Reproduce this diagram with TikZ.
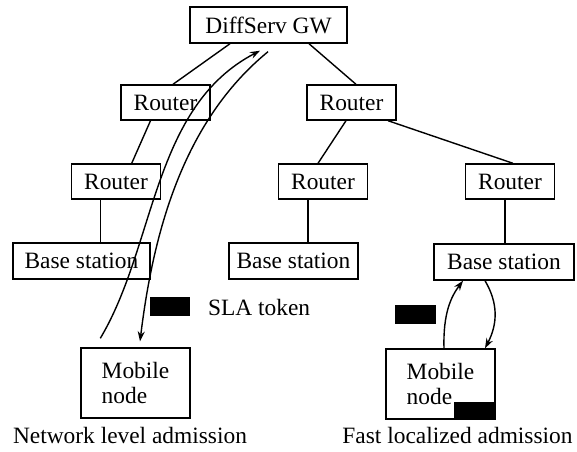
\documentclass[tikz,border=0pt]{standalone}
\usepackage{fontspec}
\setmainfont{Liberation Serif}
\usetikzlibrary{arrows.meta,positioning,calc}

\begin{document}
\begin{tikzpicture}[x=0.5pt,y=-0.5pt,
    font=\fontsize{11.7}{14}\selectfont,
    box/.style={draw, line width=0.7pt, inner sep=0pt, minimum height=18pt},
    router/.style={box, minimum width=44.5pt, minimum height=17.5pt},
    basest/.style={box},
    mobile/.style={box, minimum width=54.5pt, minimum height=35pt, align=left,
                   font=\fontsize{11.7}{12.5}\selectfont},
    token/.style={fill=black, inner sep=0pt, minimum width=20pt, minimum height=9.5pt},
    link/.style={line width=0.7pt},
    flow/.style={line width=0.7pt, -{Stealth[length=5pt,width=3.5pt]}}]

     \useasboundingbox (0,0) rectangle (577,451);

     % the tree
     \node[box, minimum width=78.5pt] (gw) at (268.5,25) {DiffServ GW};
     \node[router] (rt1) at (165.5,102.5) {Router};
     \node[router] (rt2) at (351.5,102.5) {Router};
     \node[router] (rt3) at (116,181.5)   {Router};
     \node[router] (rt4) at (323,181.5)   {Router};
     \node[router] (rt5) at (510,181.5)   {Router};
     \node[basest, minimum width=68.5pt] (bs1) at (81.5,261)  {Base station};
     \node[basest, minimum width=64.5pt] (bs2) at (293.5,261) {Base station};
     \node[basest, minimum width=70pt]   (bs3) at (504,262)   {Base station};
     \node[mobile] (mn1) at (135.5,383) {Mobile\\node};
     \node[mobile] (mn2) at (440.5,384) {Mobile\\node};

     % links
     \draw[link] ($(gw.south)+(-38.5,0)$) -- ($(rt1.north)+(7.5,0)$);
     \draw[link] ($(gw.south)+(40.5,0)$)  -- ($(rt2.north)+(4.5,0)$);
     \draw[link] ($(rt1.south)+(-15,0)$)  -- ($(rt3.north)+(15.7,0)$);
     \draw[link] ($(rt2.south)+(-5.5,0)$) -- ($(rt4.north)+(-5,0)$);
     \draw[link] ($(rt2.south)+(36.5,0)$) -- ($(rt5.north)+(3,0)$);
     \draw[link] ($(rt3.south)+(-15.3,0)$) coordinate (v1) -- (v1 |- bs1.north);
     \draw[link] ($(rt4.south)+(-15,0)$)   coordinate (v2) -- (v2 |- bs2.north);
     \draw[link] ($(rt5.south)+(-5,0)$)    coordinate (v3) -- (v3 |- bs3.north);

     % network level admission
     \coordinate (upS) at ($(mn1.north west)+(20,-9)$);
     \coordinate (upE) at ($(gw.south)+(-8.5,7)$);
     \coordinate (dnS) at ($(gw.south)+(-0.5,8)$);
     \coordinate (dnE) at ($(mn1.north)+(4.5,-6)$);
     \draw[flow] (upS) .. controls (156,245) and (152,107) .. (upE);
     \draw[flow] (dnS) .. controls (182,122) and (153,235) .. (dnE);

     \node[token] (tk1) at (170,306.5) {};
     \node[anchor=base west] (sla) at (201,315) {SLA token};

     % fast localized admission
     \draw[flow] ($(mn2.north)+(3.5,0)$) .. controls +(-1,-35) and +(-12,16) .. ($(bs3.south)+(-41,0)$);
     \draw[flow] ($(bs3.south)+(-19,0)$) .. controls +(13,22) and +(13,-25) .. ($(mn2.north)+(44.5,0)$);

     \node[token, minimum width=20.5pt] (tk2) at (415.5,314.5) {};
     \node[token, minimum width=20.5pt, minimum height=8.5pt, anchor=south east] (tk3) at (mn2.south east) {};

     \node[anchor=base] (lbl1) at (130,443)   {Network level admission};
     \node[anchor=base] (lbl2) at (457.5,443) {Fast localized admission};
\end{tikzpicture}
\end{document}
